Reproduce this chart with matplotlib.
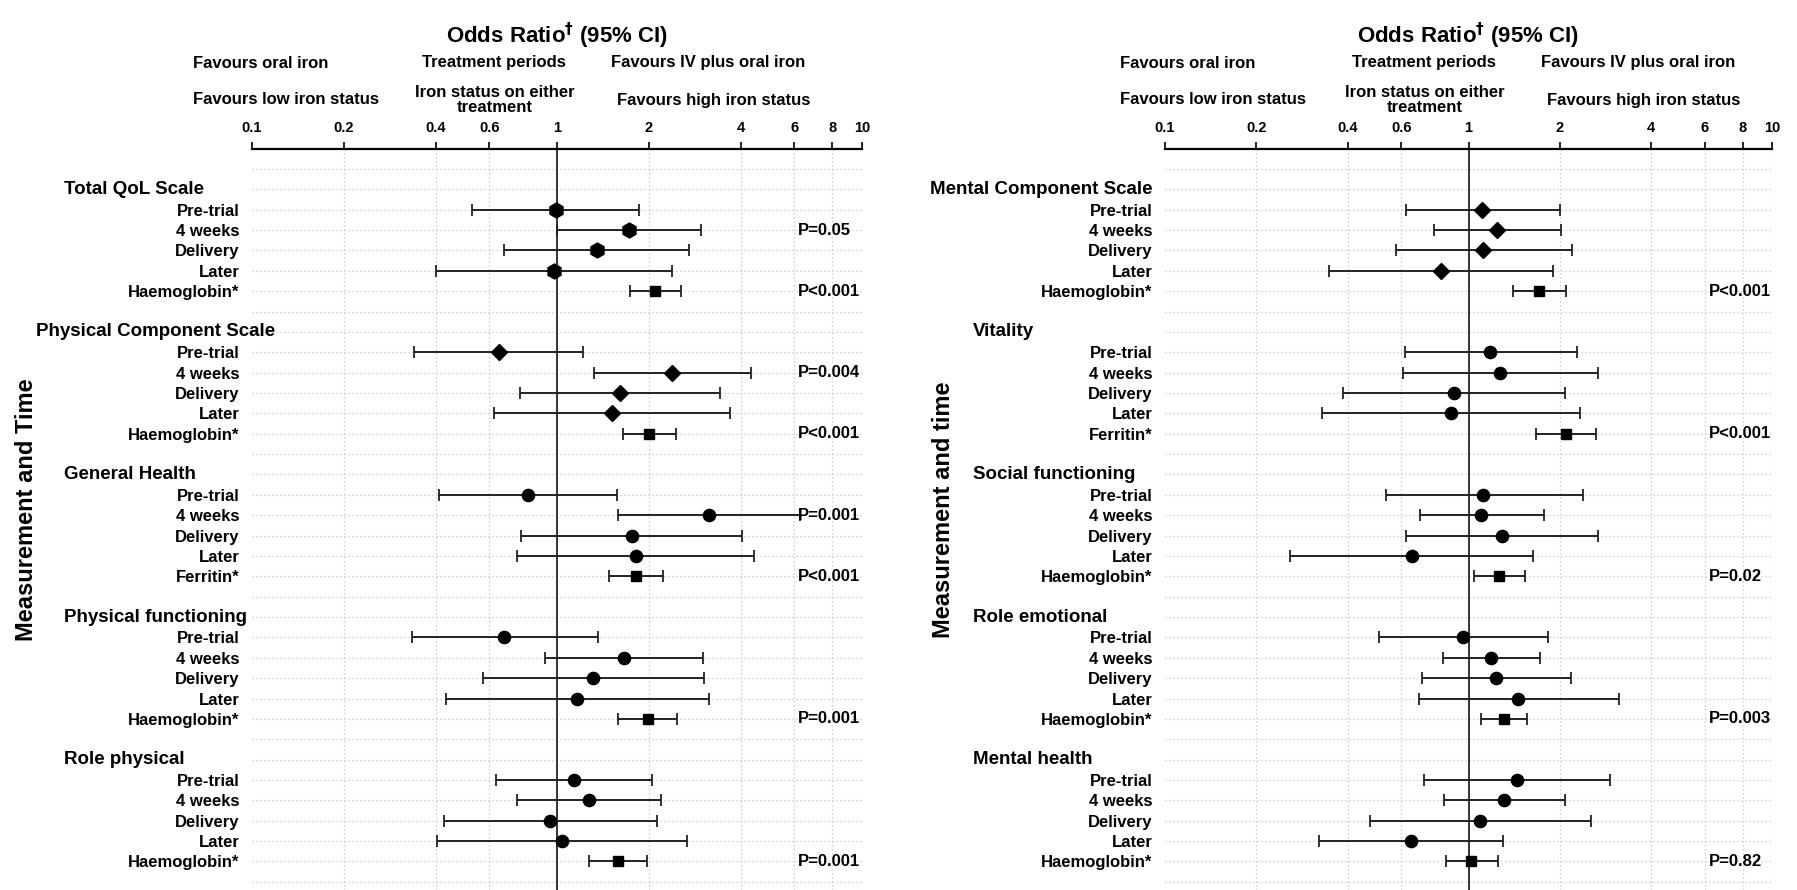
import matplotlib
matplotlib.use("Agg")
import matplotlib.pyplot as plt
from matplotlib.transforms import blended_transform_factory

plt.rcParams['font.family'] = ['Liberation Sans', 'DejaVu Sans']
plt.rcParams['font.weight'] = 'bold'

# ---- data -------------------------------------------------------------
tick_vals = [0.1, 0.2, 0.4, 0.6, 1, 2, 4, 6, 8, 10]
tick_text = ["0.1", "0.2", "0.4", "0.6", "1", "2", "4", "6", "8", "10"]
time_rows = ["Pre-trial", "4 weeks", "Delivery", "Later"]

left_groups = ["Total QoL Scale", "Physical Component Scale", "General Health",
               "Physical functioning", "Role physical"]
left_iron = ["Haemoglobin*", "Haemoglobin*", "Ferritin*", "Haemoglobin*", "Haemoglobin*"]
left_or = [[0.99, 1.72, 1.35, 0.98, 2.09],
           [0.643, 2.39, 1.61, 1.52, 2.00],
           [0.802, 3.16, 1.76, 1.81, 1.81],
           [0.671, 1.66, 1.31, 1.16, 1.99],
           [1.14, 1.27, 0.946, 1.04, 1.58]]
left_lo = [[0.525, 1.0, 0.671, 0.402, 1.74],
           [0.340, 1.32, 0.756, 0.622, 1.64],
           [0.410, 1.58, 0.762, 0.737, 1.48],
           [0.335, 0.911, 0.571, 0.434, 1.59],
           [0.633, 0.737, 0.425, 0.403, 1.27]]
left_hi = [[1.86, 2.96, 2.70, 2.39, 2.55],
           [1.22, 4.32, 3.42, 3.69, 2.46],
           [1.57, 6.27, 4.05, 4.43, 2.22],
           [1.36, 3.01, 3.03, 3.16, 2.47],
           [2.05, 2.19, 2.13, 2.67, 1.98]]
left_p = [["", "P=0.05", "", "", "P<0.001"],
          ["", "P=0.004", "", "", "P<0.001"],
          ["", "P=0.001", "", "", "P<0.001"],
          ["", "", "", "", "P=0.001"],
          ["", "", "", "", "P=0.001"]]
left_shape = ["h", "D", "o", "o", "o"]

right_groups = ["Mental Component Scale", "Vitality", "Social functioning",
                "Role emotional", "Mental health"]
right_iron = ["Haemoglobin*", "Ferritin*", "Haemoglobin*", "Haemoglobin*", "Haemoglobin*"]
right_or = [[1.11, 1.24, 1.12, 0.812, 1.71],
            [1.18, 1.27, 0.897, 0.878, 2.09],
            [1.12, 1.10, 1.29, 0.651, 1.26],
            [0.958, 1.19, 1.23, 1.46, 1.31],
            [1.44, 1.31, 1.09, 0.648, 1.02]]
right_lo = [[0.623, 0.768, 0.577, 0.346, 1.40],
            [0.618, 0.610, 0.387, 0.330, 1.67],
            [0.533, 0.692, 0.623, 0.258, 1.04],
            [0.506, 0.823, 0.704, 0.686, 1.10],
            [0.716, 0.830, 0.472, 0.322, 0.841]]
right_hi = [[2.00, 2.02, 2.20, 1.90, 2.10],
            [2.28, 2.68, 2.08, 2.33, 2.63],
            [2.39, 1.77, 2.68, 1.63, 1.54],
            [1.83, 1.72, 2.17, 3.14, 1.56],
            [2.92, 2.08, 2.53, 1.30, 1.25]]
right_p = [["", "", "", "", "P<0.001"],
           ["", "", "", "", "P<0.001"],
           ["", "", "", "", "P=0.02"],
           ["", "", "", "", "P=0.003"],
           ["", "", "", "", "P=0.82"]]
right_shape = ["D", "o", "o", "o", "o"]

title = "Odds Ratio$^{\\dagger}$ (95% CI)"
top_line1 = ["Favours oral iron", "Treatment periods", "Favours IV plus oral iron"]
top_line2 = ["Favours low iron status", "Iron status on either\ntreatment",
             "Favours high iron status"]
ylab_left = "Measurement and Time"
ylab_right = "Measurement and time"

# ---- layout (pixels) ----------------------------------------------------
W, H = 1797, 890
fig = plt.figure(figsize=(W / 100, H / 100), dpi=100)
renderer = fig.canvas.get_renderer()

AX_TOP = 149
P_X = 6.18
MS = {"h": 10.8, "D": 8.6, "o": 8.8, "s": 7.6}


def px(x, y):
    return x / W, 1 - y / H


def panel(ax_left, ax_w, groups, iron, ors, los, his, pvals, shapes,
          hdr_x0, hdr_alt, top_pos, ylab, ylab_x):
    ax = fig.add_axes([ax_left / W, 0, ax_w / W, (H - AX_TOP) / H])
    ax.set_xscale('log')
    ax.set_xlim(0.1, 10)
    ax.set_ylim(35.4, -0.98)
    for s in ['left', 'right', 'bottom']:
        ax.spines[s].set_visible(False)
    ax.spines['top'].set_linewidth(1.6)
    ax.xaxis.tick_top()
    ax.set_xticks(tick_vals)
    ax.set_xticklabels(tick_text, fontsize=10.5, fontweight='bold')
    ax.xaxis.set_minor_locator(plt.NullLocator())
    ax.tick_params(axis='x', direction='out', length=5, width=1.2, pad=5)

    dot = (0, (1.0, 2.2))
    for v in tick_vals[1:]:
        ax.axvline(v, color='#c4c4c4', lw=0.9, ls=dot, zorder=0)
    for r in range(36):
        ax.axhline(r, color='#c4c4c4', lw=0.9, ls=dot, zorder=0)
    ax.axvline(1, color='black', lw=1.1, zorder=1)

    ylabels, ypos = [], []
    trans = blended_transform_factory(fig.transFigure, ax.transData)
    for g in range(len(groups)):
        base = 2 + 7 * g
        t = fig.text(hdr_x0 / W, base - 1, groups[g], transform=trans,
                     ha='left', va='center', fontsize=13.5)
        if t.get_window_extent(renderer).x1 > ax_left + 20:
            t.set_x(hdr_alt / W)
            t.set_ha('right')
        names = time_rows + [iron[g]]
        for i in range(5):
            y = base + i
            o, lo, hi = ors[g][i], los[g][i], his[g][i]
            mk = 's' if i == 4 else shapes[g]
            ax.errorbar([o], [y], xerr=[[o - lo], [hi - o]], fmt=mk,
                        ms=MS[mk], color='black', ecolor='#222222',
                        elinewidth=1.4, capsize=4, capthick=1.3, zorder=3)
            if pvals[g][i]:
                ax.text(P_X, y, pvals[g][i], ha='left', va='center',
                        fontsize=12)
            ylabels.append(names[i])
            ypos.append(y)
    ax.set_yticks(ypos)
    ax.set_yticklabels(ylabels, fontsize=12, fontweight='bold')
    ax.tick_params(axis='y', length=0, pad=9)

    # header above the axis
    ttrans = blended_transform_factory(ax.transData, fig.transFigure)
    fig.text(1, px(0, 36)[1], title, transform=ttrans, ha='center',
             va='center', fontsize=16)
    for (x, ha), txt in zip(top_pos[0], top_line1):
        fig.text(x / W, px(0, 63)[1], txt, ha=ha, va='center', fontsize=12)
    for (x, ha), txt in zip(top_pos[1], top_line2):
        fig.text(x / W, px(0, 100)[1], txt, ha=ha, va='center', fontsize=12,
                 linespacing=0.95, multialignment='center')
    fig.text(ylab_x / W, px(0, 510)[1], ylab, rotation=90, ha='center',
             va='center', fontsize=17)
    return ax


panel(252, 610, left_groups, left_iron, left_or, left_lo, left_hi, left_p,
      left_shape, 64, 275,
      [[(193, 'left'), (494, 'center'), (708, 'center')],
       [(193, 'left'), (495, 'center'), (714, 'center')]],
      ylab_left, 27)
panel(1165, 607, right_groups, right_iron, right_or, right_lo, right_hi,
      right_p, right_shape, 973, 1153,
      [[(1120, 'left'), (1424, 'center'), (1638, 'center')],
       [(1120, 'left'), (1425, 'center'), (1644, 'center')]],
      ylab_right, 943)

fig.savefig("out.png", dpi=100, facecolor='white')
